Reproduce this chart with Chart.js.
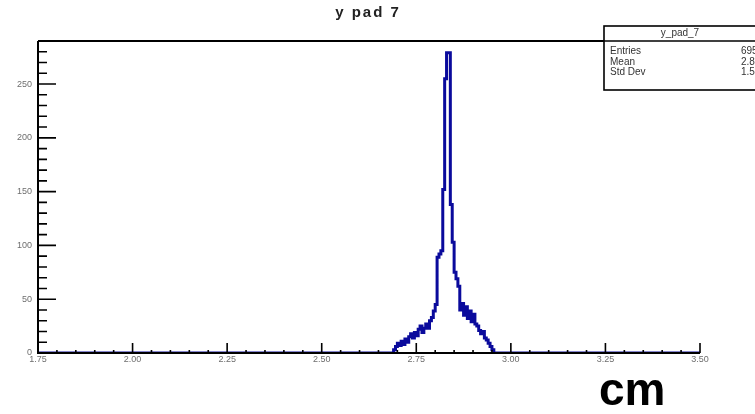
<!DOCTYPE html>
<html>
<head>
<meta charset="utf-8">
<script src="https://cdn.jsdelivr.net/npm/chart.js@4"></script>
<style>
html,body{margin:0;padding:0;background:#fff;}
canvas{display:block;}
</style>
</head>
<body>
<canvas id="c" width="755" height="414"></canvas>
<script>
// ---- data ----
const chartTitle = 'y pad 7';
const histName = 'y_pad_7';
const statLabels = ['Entries', 'Mean', 'Std Dev'];
const statValues = ['6956', '2.836', '1.582'];
const axisUnit = 'cm';
const xTickLabels = ['1.75', '2.00', '2.25', '2.50', '2.75', '3.00', '3.25', '3.50'];
const yTickLabels = ['0', '50', '100', '150', '200', '250'];
const xMin = 1.75, xMax = 3.5;
const yMin = 0, yMax = 290;
const binLow = 2.69;
const binWidth = 0.005;
const counts = [3, 6, 9, 7, 11, 8, 13, 10, 15, 18, 14, 19, 16, 22, 25, 19, 23, 27, 23, 30,
  33, 39, 45, 89, 92, 95, 152, 255, 279, 279, 138, 103, 75, 69, 62, 40, 46, 35, 43, 32,
  39, 29, 36, 27, 25, 21, 18, 20, 14, 12, 9, 6, 3];

// histogram outline points (left bin edges, step-before)
const pts = [{x: xMin, y: 0}, {x: binLow, y: 0}];
counts.forEach((c, i) => pts.push({x: binLow + i * binWidth, y: c}));
pts.push({x: binLow + counts.length * binWidth, y: 0});
pts.push({x: xMax, y: 0});

const framePlugin = {
  id: 'rootFrame',
  afterDraw(chart) {
    const ctx = chart.ctx;
    const xs = chart.scales.x, ys = chart.scales.y;
    const left = xs.getPixelForValue(xMin), right = xs.getPixelForValue(xMax);
    const bottom = ys.getPixelForValue(0), top = ys.getPixelForValue(yMax);
    ctx.save();
    ctx.strokeStyle = '#000';
    ctx.lineWidth = 2;
    ctx.beginPath();
    ctx.moveTo(left, top); ctx.lineTo(right, top);
    ctx.moveTo(left, top); ctx.lineTo(left, bottom); ctx.lineTo(right, bottom);
    ctx.stroke();
    ctx.lineWidth = 1.6;
    ctx.beginPath();
    const yVals = yTickLabels.map(Number);
    const yStep = yVals[1] - yVals[0];
    for (let v = yMin; v <= yMax; v += yStep / 5) {
      const p = ys.getPixelForValue(v);
      const major = Math.abs(v / yStep - Math.round(v / yStep)) < 1e-6;
      ctx.moveTo(left, p); ctx.lineTo(left + (major ? 18 : 9), p);
    }
    const xVals = xTickLabels.map(Number);
    const xStep = xVals[1] - xVals[0];
    for (let k = 0; k <= Math.round((xMax - xMin) / (xStep / 5)); k++) {
      const v = xMin + k * xStep / 5;
      const p = xs.getPixelForValue(v);
      const major = k % 5 === 0;
      ctx.moveTo(p, bottom); ctx.lineTo(p, bottom - (major ? 10 : 3));
    }
    ctx.stroke();
    ctx.fillStyle = '#6e6e6e';
    ctx.font = '9px "Liberation Sans", Arial, sans-serif';
    ctx.textAlign = 'right'; ctx.textBaseline = 'middle';
    yTickLabels.forEach((t, i) => {
      ctx.fillText(t, left - 6, ys.getPixelForValue(yVals[i]));
    });
    ctx.textAlign = 'center'; ctx.textBaseline = 'top';
    xTickLabels.forEach((t, i) => {
      ctx.fillText(t, xs.getPixelForValue(xVals[i]), bottom + 2);
    });
    ctx.fillStyle = '#222';
    ctx.font = 'bold 15px "Liberation Sans", Arial, sans-serif';
    ctx.textAlign = 'center'; ctx.textBaseline = 'middle';
    try { ctx.letterSpacing = '2px'; } catch (e) {}
    ctx.fillText(chartTitle, 368, 13);
    try { ctx.letterSpacing = '0px'; } catch (e) {}
    const bx = 604, by = 26, bw = 156, bh = 64;
    ctx.fillStyle = '#fff';
    ctx.fillRect(bx, by, bw, bh);
    ctx.strokeStyle = '#000';
    ctx.lineWidth = 1.6;
    ctx.strokeRect(bx, by, bw, bh);
    ctx.beginPath();
    ctx.moveTo(bx, top); ctx.lineTo(bx + bw, top);
    ctx.stroke();
    ctx.fillStyle = '#333';
    ctx.font = '10px "Liberation Sans", Arial, sans-serif';
    ctx.textAlign = 'center'; ctx.textBaseline = 'middle';
    ctx.fillText(histName, 680, 33);
    ctx.textAlign = 'left';
    const rowsY = [51, 62, 72];
    statLabels.forEach((s, i) => {
      ctx.fillText(s, 610, rowsY[i]);
      ctx.fillText(statValues[i], 741, rowsY[i]);
    });
    ctx.fillStyle = '#000';
    ctx.font = 'bold 46px "Liberation Sans", Arial, sans-serif';
    ctx.textAlign = 'left'; ctx.textBaseline = 'alphabetic';
    ctx.fillText(axisUnit, 599, 405);
    ctx.restore();
  }
};

new Chart(document.getElementById('c'), {
  type: 'line',
  data: {
    datasets: [{
      data: pts,
      stepped: 'before',
      borderColor: '#0a0a9c',
      borderWidth: 3,
      pointRadius: 0,
      fill: false,
      tension: 0
    }]
  },
  options: {
    responsive: false,
    animation: false,
    devicePixelRatio: 1,
    layout: {padding: {left: 38, top: 41, right: 55, bottom: 61}},
    scales: {
      x: {type: 'linear', min: xMin, max: xMax, display: false},
      y: {type: 'linear', min: yMin, max: yMax, display: false}
    },
    plugins: {legend: {display: false}, tooltip: {enabled: false}, title: {display: false}}
  },
  plugins: [framePlugin]
});
</script>
</body>
</html>
